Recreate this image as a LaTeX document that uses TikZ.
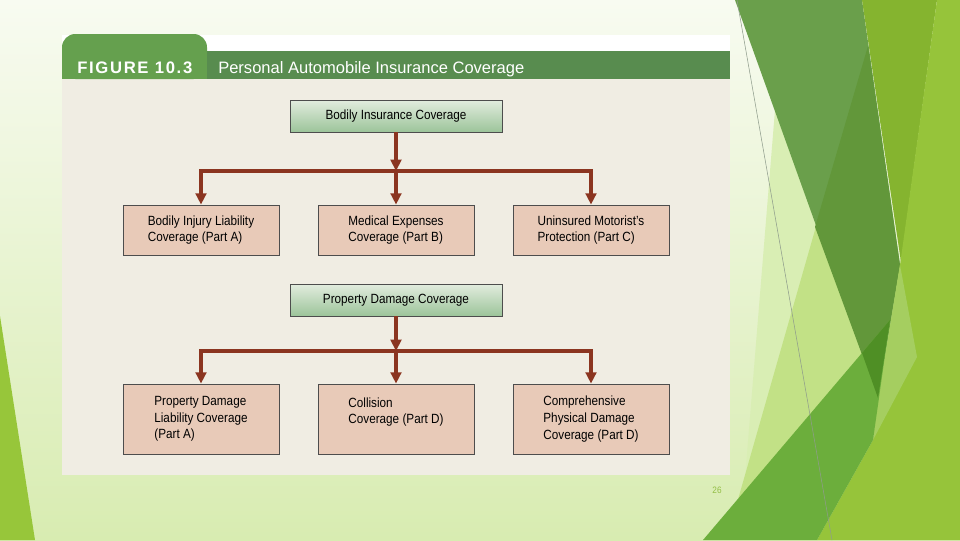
\documentclass[tikz,border=0pt]{standalone}
\usepackage{fontspec}
\setmainfont{Liberation Sans}[FakeStretch=0.88]
\newfontfamily\figfont{Liberation Sans}[LetterSpace=10]
\newfontfamily\capfont{Liberation Sans}
\usetikzlibrary{arrows.meta}
\definecolor{slidetop}{HTML}{F8FBF1}
\definecolor{slidebot}{HTML}{D8ECB1}
\definecolor{panel}{HTML}{F0EDE3}
\definecolor{barcol}{HTML}{588C4F}
\definecolor{tabcol}{HTML}{65A04E}
\definecolor{headtop}{HTML}{E2ECDE}
\definecolor{headbot}{HTML}{9CC49A}
\definecolor{partfill}{HTML}{E8CAB8}
\definecolor{boxline}{HTML}{4D4D4D}
\definecolor{flowcol}{HTML}{8B3520}
\definecolor{leafa}{HTML}{97C63A}
\definecolor{leafb}{HTML}{D9EEB4}
\definecolor{leafc}{HTML}{C2E186}
\definecolor{leafd}{HTML}{6A9F4B}
\definecolor{leafe}{HTML}{62973A}
\definecolor{leaff}{HTML}{85B42F}
\definecolor{leafg}{HTML}{96C43A}
\definecolor{leafh}{HTML}{A5CE60}
\definecolor{leafi}{HTML}{6CAE3C}
\definecolor{leafj}{HTML}{4F8F25}
\definecolor{hairline}{HTML}{8F9C8C}
\definecolor{pagecol}{HTML}{93BF45}

\begin{document}
\begin{tikzpicture}[x=0.75pt,y=-0.75pt,
    head/.style={draw=boxline, line width=0.6pt, top color=headtop, bottom color=headbot,
      minimum width=159pt, minimum height=24pt, inner sep=0pt, font=\fontsize{10}{12.5}\selectfont},
    part/.style={draw=boxline, line width=0.6pt, fill=partfill, minimum width=117pt,
      minimum height=37.5pt, inner sep=0pt, align=left, font=\fontsize{10}{12.5}\selectfont},
    tall/.style={part, minimum height=52.5pt},
    flow/.style={draw=flowcol, line width=2.5pt, line join=miter, -{Triangle[length=8.5pt,width=8pt]}}]
  \useasboundingbox (0,0) rectangle (960,540);
  % slide background
  \shade[top color=slidetop, bottom color=slidebot] (0,0) rectangle (960,540);
  \fill[leafa] (0,316) -- (35,540) -- (0,540) -- cycle;
  \begin{scope}
    \fill[leafb] (775,110) -- (855,300) -- (760,540) -- (740,540) -- cycle;
    \fill[leafc] (845,125) -- (880,400) -- (735,510) -- cycle;
    \fill[leafd] (735,0) -- (862,0) -- (900,265) -- (878,398) -- cycle;
    \fill[leafe] (868,46) -- (900,265) -- (878,398) -- (815,227) -- cycle;
    \fill[leaff] (862,0) -- (937,0) -- (901,262) -- cycle;
    \fill[leafg] (937,0) -- (960,0) -- (960,540) -- (817,540) -- (873,440) -- (900,265) -- cycle;
    \fill[leafh] (900,265) -- (917,357) -- (873,440) -- (878,398) -- cycle;
    \fill[leafi] (703,540) -- (890,320) -- (873,440) -- (817,540) -- cycle;
    \fill[leafj] (862,353) -- (890,320) -- (878,398) -- cycle;
    \draw[hairline, line width=0.4pt] (737,0) -- (832,540);
  \end{scope}
  \node[text=pagecol, font=\fontsize{7}{7}\selectfont] (pageno) at (717,490) {26};
  % figure panel
  \fill[white] (62,35) rectangle (730,79);
  \fill[panel] (62,79) rectangle (730,475);
  \fill[tabcol, rounded corners=10pt] (62,34) rectangle (207,79);
  \fill[tabcol] (62,55) rectangle (207,79);
  \fill[barcol] (207,51) rectangle (730,79);
  \node[anchor=base west, text=white, font=\figfont\bfseries\fontsize{12.5}{14}\selectfont, inner sep=0pt]
    (fig) at (77,73) {FIGURE 10.3};
  \node[anchor=base west, text=white, font=\capfont\fontsize{12.4}{14}\selectfont, inner sep=0pt]
    (title) at (218,73) {Personal Automobile Insurance Coverage};
  % bodily
  \node[head] (bic) at (396,116) {Bodily Insurance Coverage};
  \node[part] (bil) at (201,230) {Bodily Injury Liability\\Coverage (Part A)};
  \node[part] (med) at (396,230) {Medical Expenses\\Coverage (Part B)};
  \node[part] (ump) at (591,230) {Uninsured Motorist's\\Protection (Part C)};
  \coordinate (jb) at (396,171);
  \draw[flow] (jb) -| (bil);
  \draw[flow] (jb) -| (ump);
  \draw[flow] (bic) -- (jb);
  \draw[flow] (jb) -- (med);
  % property
  \node[head] (pdc) at (396,300) {Property Damage Coverage};
  \node[tall] (pdl) at (201,419) {Property Damage\\Liability Coverage\\(Part A)};
  \node[tall] (col) at (396,419) {Collision\\Coverage (Part D)\\\mbox{}};
  \node[tall] (cpd) at (591,419) {Comprehensive\\Physical Damage\\Coverage (Part D)};
  \coordinate (jp) at (396,351);
  \draw[flow] (jp) -| (pdl);
  \draw[flow] (jp) -| (cpd);
  \draw[flow] (pdc) -- (jp);
  \draw[flow] (jp) -- (col);
\end{tikzpicture}
\end{document}
